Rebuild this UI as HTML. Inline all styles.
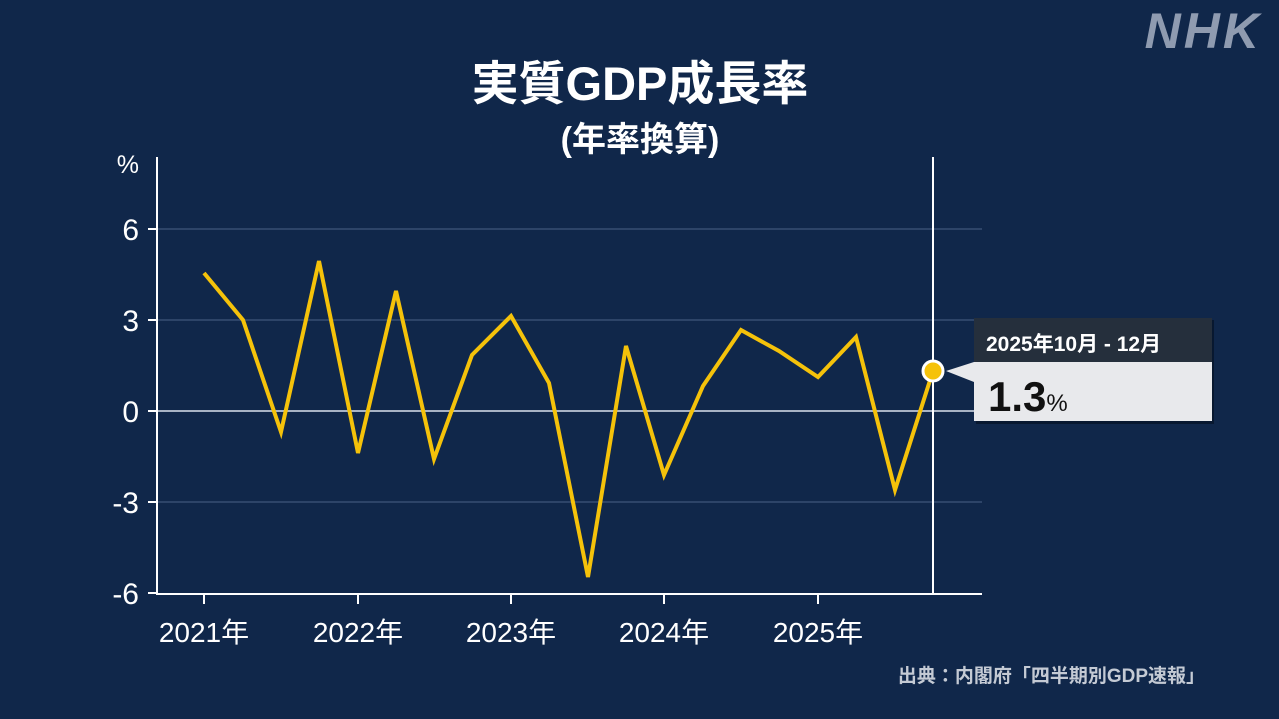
<!DOCTYPE html>
<html><head><meta charset="utf-8"><style>
html,body{margin:0;padding:0;background:#10274a;}
svg{display:block}
text{font-family:"Liberation Sans","Noto Sans CJK JP",sans-serif;}
</style></head><body>
<svg width="1279" height="719" viewBox="0 0 1279 719" xmlns="http://www.w3.org/2000/svg">
<rect width="1279" height="719" fill="#10274a"/>
<text x="1262" y="48" font-size="50" font-weight="bold" font-style="italic" fill="#8f9bb0" text-anchor="end" letter-spacing="3">NHK</text>
<text x="640" y="100" font-size="47" font-weight="bold" fill="#fff" text-anchor="middle">実質GDP成長率</text>
<text x="640" y="151" font-size="34" font-weight="bold" fill="#fff" text-anchor="middle">(年率換算)</text>
<g stroke="#2d4468" stroke-width="2">
<line x1="157" y1="229" x2="982" y2="229"/>
<line x1="157" y1="320" x2="982" y2="320"/>
<line x1="157" y1="502" x2="982" y2="502"/>
</g>
<line x1="157" y1="411" x2="982" y2="411" stroke="#a8b3c4" stroke-width="2"/>
<line x1="157" y1="157" x2="157" y2="594" stroke="#fff" stroke-width="2"/>
<line x1="156" y1="594" x2="982" y2="594" stroke="#fff" stroke-width="2"/>
<line x1="933" y1="157" x2="933" y2="594" stroke="#fff" stroke-width="2"/>
<g stroke="#fff" stroke-width="2">
<line x1="148" y1="229" x2="157" y2="229"/><line x1="148" y1="320" x2="157" y2="320"/><line x1="148" y1="411" x2="157" y2="411"/><line x1="148" y1="502" x2="157" y2="502"/><line x1="148" y1="593" x2="157" y2="593"/>
<line x1="204" y1="594" x2="204" y2="604"/><line x1="358" y1="594" x2="358" y2="604"/><line x1="511" y1="594" x2="511" y2="604"/><line x1="664" y1="594" x2="664" y2="604"/><line x1="818" y1="594" x2="818" y2="604"/>
</g>
<g fill="#fff" font-size="30" text-anchor="end">
<text x="139" y="173" font-size="25">%</text>
<text x="139" y="240">6</text><text x="139" y="331">3</text><text x="139" y="422">0</text><text x="139" y="513">-3</text><text x="139" y="604">-6</text>
</g>
<g fill="#fff" font-size="28" text-anchor="middle">
<text x="204" y="642">2021年</text><text x="358" y="642">2022年</text><text x="511" y="642">2023年</text><text x="664" y="642">2024年</text><text x="818" y="642">2025年</text>
</g>
<polyline fill="none" stroke="#f5c20a" stroke-width="4" stroke-linejoin="miter" points="204,273 243,320 281,432 319,261 358,453 396,291 434,459 472,355 511,316 549,383 588,577 626,346 664,475 703,386 741,330 779,351 818,377 856,337 895,490 933,371"/>
<circle cx="933" cy="371" r="10" fill="#f5c20a" stroke="#fff" stroke-width="3"/>
<rect x="976" y="320" width="238" height="104" fill="#081830"/>
<rect x="974" y="318" width="238" height="44" fill="#252f3c"/>
<rect x="974" y="362" width="238" height="59" fill="#e8e9ec"/>
<polygon points="946,371 974,362 974,382" fill="#e8e9ec"/>
<text x="986" y="351" font-size="21" font-weight="bold" fill="#fff">2025年10月 - 12月</text>
<text x="988" y="411" font-size="42" font-weight="bold" fill="#111">1.3<tspan font-size="24" font-weight="normal">%</tspan></text>
<text x="1205" y="682" font-size="19" font-weight="bold" fill="#c4cad4" text-anchor="end">出典：内閣府「四半期別GDP速報」</text>
</svg>
</body></html>
